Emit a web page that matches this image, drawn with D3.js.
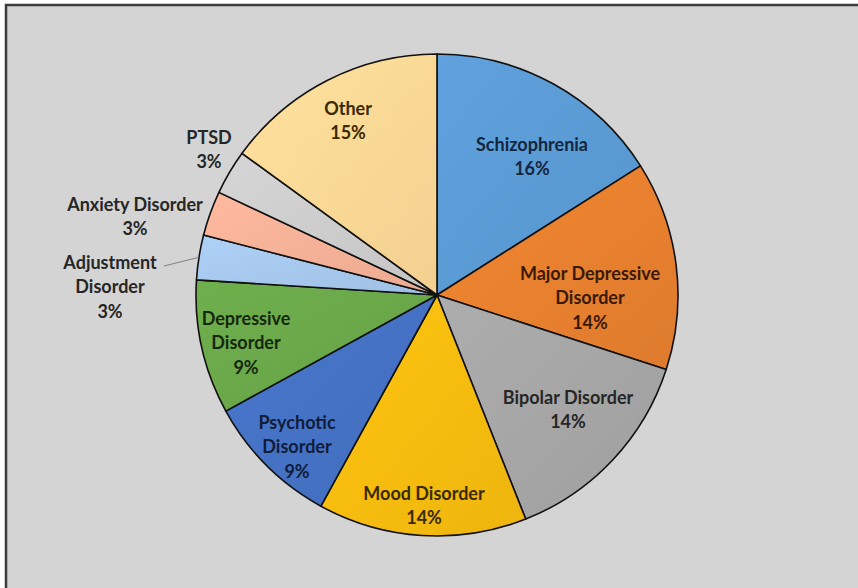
<!DOCTYPE html>
<html><head><meta charset="utf-8">
<script src="https://cdn.jsdelivr.net/npm/d3@7"></script>
<style>
html,body{margin:0;padding:0;background:#ffffff;}
svg{display:block;}
</style></head>
<body>
<script>
// ---- data ----
const categories = ["Schizophrenia","Major Depressive Disorder","Bipolar Disorder","Mood Disorder","Psychotic Disorder","Depressive Disorder","Adjustment Disorder","Anxiety Disorder","PTSD","Other"];
const values = [16,14,14,14,9,9,3,3,3,15];
const labelLines = [
  ["Schizophrenia","16%"],
  ["Major Depressive","Disorder","14%"],
  ["Bipolar Disorder","14%"],
  ["Mood Disorder","14%"],
  ["Psychotic","Disorder","9%"],
  ["Depressive","Disorder","9%"],
  ["Adjustment","Disorder","3%"],
  ["Anxiety Disorder","3%"],
  ["PTSD","3%"],
  ["Other","15%"]
];
// ---- style / layout ----
const colors = ["#5b9bd5","#e8802f","#a6a6a6","#f7bd0f","#4572c4","#6aa84a","#a7c8ee","#f5b197","#cdcdcd","#ffd996"];
const textColors = ["#14263d","#3a1a06","#262626","#3a2a00","#101d38","#15280e","#262626","#262626","#262626","#3a2a00"];
// label centre offsets relative to pie centre (px)
const labelOffsets = [[95,-138],[153,3],[131,115],[-13,211],[-140,152],[-191,48],[-327,-8],[-302,-78],[-228,-145],[-89,-174]];

const W = 858, H = 588;
const cx = 437, cy = 295, R = 241;

const svg = d3.select("body").append("svg").attr("width", W).attr("height", H);
svg.append("rect").attr("x",0).attr("y",0).attr("width",W).attr("height",H).attr("fill","#ffffff");
svg.append("rect").attr("x",6).attr("y",5).attr("width",W+20).attr("height",H+20)
  .attr("fill","#d4d4d4").attr("stroke","#3c3c3c").attr("stroke-width",2.5);

const defs = svg.append("defs");
colors.forEach((c,i)=>{
  const g = defs.append("linearGradient").attr("id","g"+i)
    .attr("x1","0%").attr("y1","0%").attr("x2","100%").attr("y2","100%");
  g.append("stop").attr("offset","0%").attr("stop-color", d3.color(c).brighter(0.12));
  g.append("stop").attr("offset","100%").attr("stop-color", d3.color(c).darker(0.12));
});

const pie = d3.pie().sort(null).value(d=>d)(values);
const arc = d3.arc().innerRadius(0).outerRadius(R);
const g = svg.append("g").attr("transform",`translate(${cx},${cy})`);

g.selectAll("path.slice").data(pie).join("path")
  .attr("class","slice")
  .attr("d", arc)
  .attr("fill",(d,i)=>`url(#g${i})`)
  .attr("stroke","#111111").attr("stroke-width",1.6).attr("stroke-linejoin","round");

// leader line for Adjustment Disorder
const adj = pie[6];
const midA = (adj.startAngle+adj.endAngle)/2;
const px = Math.sin(midA)*R, py = -Math.cos(midA)*R;
g.append("path")
  .attr("d", `M${labelOffsets[6][0]+54},${labelOffsets[6][1]-21} L${px},${py}`)
  .attr("stroke","#7f7f7f").attr("stroke-width",1).attr("fill","none");

const lh = 24.5;
const labels = g.selectAll("text.lbl").data(labelLines).join("text")
  .attr("class","lbl")
  .attr("text-anchor","middle")
  .attr("font-family","Lato, 'Open Sans', sans-serif")
  .attr("font-weight","bold")
  .attr("font-size","18px")
  .attr("fill",(d,i)=>textColors[i]);
labels.each(function(lines,i){
  const [ox,oy] = labelOffsets[i];
  const n = lines.length;
  const t = d3.select(this);
  lines.forEach((ln,k)=>{
    t.append("tspan").attr("x",ox).attr("y", oy + (k-(n-1)/2)*lh + 6).text(ln);
  });
});
</script>
</body></html>
